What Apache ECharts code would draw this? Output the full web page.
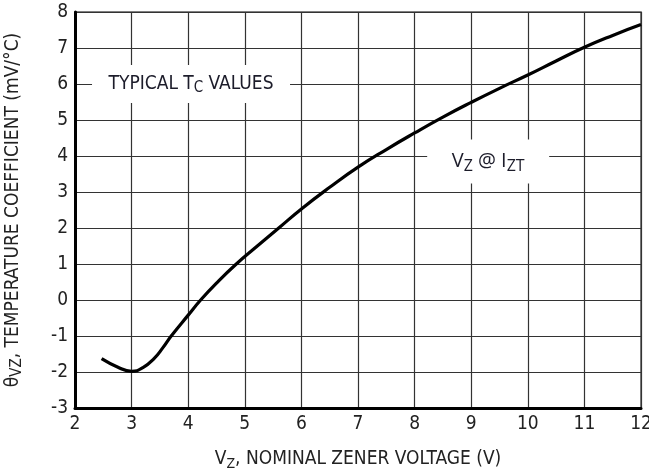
<!DOCTYPE html>
<html>
<head>
<meta charset="utf-8">
<script src="https://cdn.jsdelivr.net/npm/echarts@6/dist/echarts.min.js"></script>
<style>
  html, body { margin: 0; padding: 0; background: #fff; }
  #main { width: 649px; height: 474px; }
</style>
</head>
<body>
<div id="main"></div>
<script>
  // curve: Vz (V) -> temperature coefficient (mV/°C)
  var vz = [2.47, 2.75, 3.0, 3.2, 3.4, 3.55, 3.7, 4.0, 4.22, 4.5, 4.85, 5.2, 5.6, 6.0, 6.5, 7.0, 7.5, 8.0, 8.5, 9.0, 9.5, 10.0, 10.5, 11.0, 11.5, 12.0];
  var tc = [-1.63, -1.86, -1.98, -1.88, -1.62, -1.33, -1.0, -0.42, 0.0, 0.47, 1.0, 1.47, 2.0, 2.53, 3.13, 3.69, 4.18, 4.64, 5.08, 5.49, 5.88, 6.25, 6.64, 7.02, 7.35, 7.65];
  var xTicks = [2, 12];
  var yTicks = [-3, 8];

  var font = "'Liberation Sans Narrow', 'DejaVu Sans Condensed', sans-serif";
  var chart = echarts.init(document.getElementById('main'));

  chart.setOption({
    animation: false,
    grid: {
      left: 75, right: 8, top: 12, bottom: 66,
      outerBoundsMode: 'none',
      containLabel: false,
      show: true, borderColor: '#555', borderWidth: 1.5
    },
    xAxis: {
      type: 'value', min: xTicks[0], max: xTicks[1], interval: 1,
      axisLine: { onZero: false, lineStyle: { color: '#000', width: 3 } },
      axisTick: { show: false },
      splitLine: { lineStyle: { color: '#333', width: 1.2 } },
      axisLabel: { color: '#222', fontSize: 19, fontFamily: font, margin: 7 },
      name: '{n|V}{s|Z}{n|, NOMINAL ZENER VOLTAGE (V)}',
      nameLocation: 'middle', nameGap: 40,
      nameTextStyle: {
        rich: {
          n: { fontSize: 19, fontFamily: font, color: '#222' },
          s: { fontSize: 14, fontFamily: font, color: '#222', padding: [9, 0, 0, 0] }
        }
      }
    },
    yAxis: {
      type: 'value', min: yTicks[0], max: yTicks[1], interval: 1,
      axisLine: { onZero: false, lineStyle: { color: '#000', width: 3 } },
      axisTick: { show: false },
      splitLine: { lineStyle: { color: '#333', width: 1.2 } },
      axisLabel: { color: '#222', fontSize: 19, fontFamily: font, margin: 7 },
      name: '{n|θ}{s|VZ}{n|, TEMPERATURE COEFFICIENT (mV/°C)}',
      nameLocation: 'middle', nameGap: 50, nameRotate: 90,
      nameTextStyle: {
        rich: {
          n: { fontSize: 19, fontFamily: font, color: '#222' },
          s: { fontSize: 15, fontFamily: font, color: '#222', padding: [8, 0, 0, 0] }
        }
      }
    },
    series: [{
      type: 'line',
      data: vz.map(function (v, i) { return [v, tc[i]]; }),
      smooth: 0.5,
      showSymbol: false,
      lineStyle: { color: '#000', width: 3.2 },
      markPoint: {
        silent: true,
        symbol: 'rect',
        itemStyle: { color: '#fff' },
        data: [
          {
            coord: [4.05, 6], symbolSize: [198, 38],
            label: {
              formatter: '{n|TYPICAL T}{s|C}{n| VALUES}',
              rich: {
                n: { fontSize: 19, fontFamily: font, color: '#1c1c2a' },
                s: { fontSize: 15, fontFamily: font, color: '#1c1c2a', padding: [9, 0, 0, 0] }
              }
            }
          },
          {
            coord: [9.3, 3.85], symbolSize: [122, 44],
            label: {
              formatter: '{n|V}{s|Z}{n| @ I}{s|ZT}',
              rich: {
                n: { fontSize: 20, fontFamily: "'Open Sans', sans-serif", color: '#1c1c2a' },
                s: { fontSize: 16, fontFamily: "'Open Sans', sans-serif", color: '#1c1c2a', padding: [10, 0, 0, 0] }
              }
            }
          }
        ]
      }
    }]
  });
</script>
</body>
</html>
